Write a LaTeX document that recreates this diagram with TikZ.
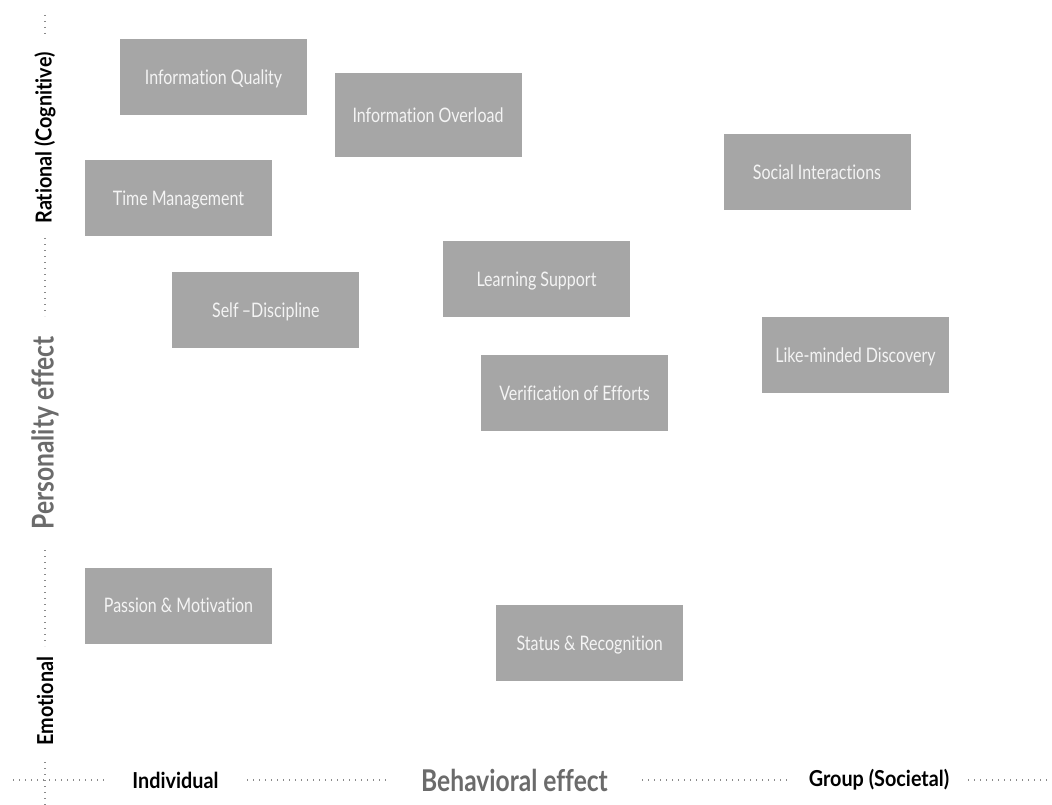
\documentclass[tikz,border=0pt]{standalone}
\usepackage{fontspec}
\setmainfont{Lato}[FakeStretch=0.8, Ligatures=NoCommon]
\newfontfamily\polefont{Lato}[FakeStretch=0.9, Ligatures=NoCommon]
\newfontfamily\titlefont{Lato}[FakeStretch=0.82, Ligatures=NoCommon]
\definecolor{boxgray}{HTML}{A6A6A6}
\definecolor{boxtext}{HTML}{F4F4F4}
\definecolor{dotgray}{HTML}{8A8A8A}
\definecolor{titlegray}{HTML}{6B6B6B}
\begin{document}
\begin{tikzpicture}[x=1pt,y=-1pt,
  factor/.style={rectangle, fill=boxgray, text=boxtext, inner sep=0pt,
    minimum width=187pt, minimum height=76pt, text depth=0pt,
    font=\fontsize{20}{22}\selectfont},
  polelabel/.style={text=black, inner sep=0pt,
    font=\polefont\bfseries\fontsize{22}{24}\selectfont},
  axistitle/.style={text=titlegray, inner sep=0pt,
    font=\titlefont\bfseries\fontsize{30}{32}\selectfont},
  dotline/.style={draw=dotgray, line width=1.2pt,
    dash pattern=on 1.2pt off 4.8pt}]
\useasboundingbox (0,0) rectangle (1052,805);

% factor boxes
\node[factor] (iq) at (213.5,77.3) {Information Quality};
\node[factor, minimum height=84pt] (io) at (428,115.3) {Information Overload};
\node[factor] (tm) at (178.5,198) {Time Management};
\node[factor] (si) at (817,172.3) {Social Interactions};
\node[factor] (ls) at (536.5,279) {Learning Support};
\node[factor] (sd) at (265.8,310) {Self\,--Discipline};
\node[factor] (ld) at (855.5,355) {Like-minded Discovery};
\node[factor] (ve) at (574.5,393) {Verification of Efforts};
\node[factor] (pm) at (178.5,605.5) {Passion \& Motivation};
\node[factor] (sr) at (589.7,643.2) {Status \& Recognition};

% vertical axis: personality effect
\node[polelabel, rotate=90] (rat) at (45,138) {Rational (Cognitive)};
\node[axistitle, rotate=90] (pers) at (45,433) {Personality effect};
\node[polelabel, rotate=90] (emo) at (45,701) {Emotional};
\coordinate (v0) at (45,15);
\coordinate (v1) at (45,34);
\coordinate (v2) at (45,238);
\coordinate (v3) at (45,316);
\coordinate (v4) at (45,550);
\coordinate (v5) at (45,646);
\coordinate (v6) at (45,762);
\coordinate (v7) at (45,805);
\draw[dotline] (v0) -- (v1);
\draw[dotline] (v2) -- (v3);
\draw[dotline] (v4) -- (v5);
\draw[dotline] (v6) -- (v7);

% horizontal axis: behavioral effect
\node[polelabel] (ind) at (175.5,780) {Individual};
\node[axistitle] (beh) at (514.5,780) {Behavioral effect};
\node[polelabel] (grp) at (879,780) {Group (Societal)};
\coordinate (h0) at (13,780);
\coordinate (h1) at (107,780);
\coordinate (h2) at (247,780);
\coordinate (h3) at (386,780);
\coordinate (h4) at (642,780);
\coordinate (h5) at (788,780);
\coordinate (h6) at (968,780);
\coordinate (h7) at (1052,780);
\draw[dotline] (h0) -- (h1);
\draw[dotline] (h2) -- (h3);
\draw[dotline] (h4) -- (h5);
\draw[dotline] (h6) -- (h7);
\end{tikzpicture}
\end{document}
